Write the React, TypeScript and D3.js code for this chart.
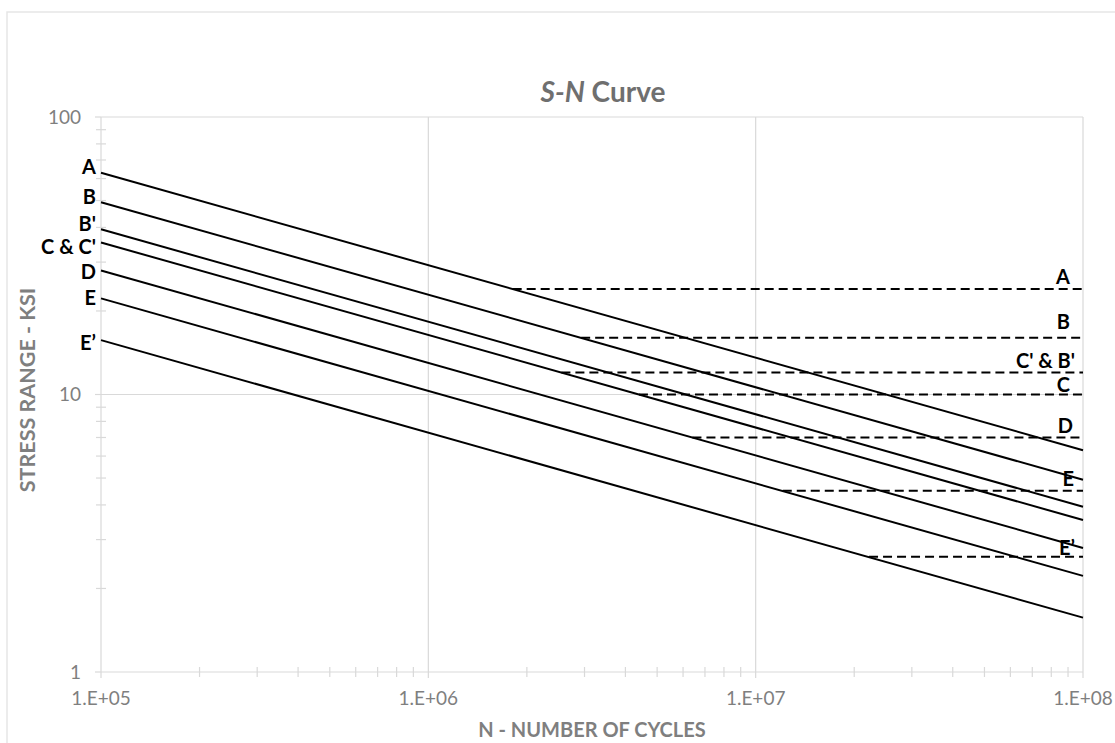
import React from "react";
import * as d3 from "d3";

// S-N curves: stress range (ksi) at N = 1e5 and at N = 1e8
const curveNames = ["A", "B", "B'", "C & C'", "D", "E", "E\u2019"];
const curveStartN = 1e5;
const curveEndN = 1e8;
const curveStartS = [63.0, 49.3, 39.4, 35.3, 28.0, 22.2, 15.7];
const curveEndS = [6.3, 4.93, 3.94, 3.53, 2.8, 2.22, 1.57];

// Constant-amplitude fatigue thresholds (dashed)
const thresholdNames = ["A", "B", "C' & B'", "C", "D", "E", "E\u2019"];
const thresholdS = [24, 16, 12, 10, 7, 4.5, 2.6];
const thresholdStartN = [1.81e6, 2.93e6, 2.55e6, 4.4e6, 6.41e6, 1.21e7, 2.22e7];

const xTickValues = [1e5, 1e6, 1e7, 1e8];
const xTickLabels = ["1.E+05", "1.E+06", "1.E+07", "1.E+08"];
const yTickValues = [1, 10, 100];
const yTickLabels = ["1", "10", "100"];

const W = 1115;
const H = 743;
const left = 101;
const right = 1083;
const top = 117;
const bottom = 672;

// label layout (offsets in px, not data)
const leftLabelDy = [1, 2, 2, 11.5, 8.5, 7, 10];
const rightLabelDy = [-5, -8.5, -5, -2.5, -4, -4.5, -2];
const rightLabelX = [1070, 1070, 1075, 1070, 1073, 1074, 1075];

export default function App() {
  const x = d3.scaleLog().domain([1e5, 1e8]).range([left, right]);
  const y = d3.scaleLog().domain([1, 100]).range([bottom, top]);
  const font = "Lato, 'Open Sans', sans-serif";
  const grid = "#d9d9d9";
  const textGrey = "#7f7f7f";
  const titleGrey = "#6f6f6f";

  const minorX: number[] = [];
  for (let d = 1e5; d < 1e8; d *= 10) for (let k = 2; k <= 9; k++) minorX.push(d * k);
  const minorY: number[] = [];
  for (let d = 1; d < 100; d *= 10) for (let k = 2; k <= 9; k++) minorY.push(d * k);

  const line = d3
    .line<[number, number]>()
    .x((d) => x(d[0]))
    .y((d) => y(d[1]));

  return (
    <svg
      width={W}
      height={H}
      style={{ position: "absolute", left: 0, top: 0, background: "#fff" }}
    >
      <rect x={7} y={12} width={W} height={H} fill="#fff" stroke="#e6e6e6" strokeWidth={1.5} />
      {/* title */}
      <text x={603} y={102} textAnchor="middle" fontFamily={font} fontWeight="bold" fontSize={28} fill={titleGrey}>
        <tspan fontStyle="italic">S-N</tspan> Curve
      </text>
      {/* grid */}
      {xTickValues.map((v, i) => (
        <line key={"gx" + i} x1={x(v)} x2={x(v)} y1={top} y2={bottom} stroke={grid} strokeWidth={1.2} />
      ))}
      {yTickValues.map((v, i) => (
        <line key={"gy" + i} x1={left} x2={right} y1={y(v)} y2={y(v)} stroke={grid} strokeWidth={1.2} />
      ))}
      {/* axes ticks */}
      {yTickValues.map((v, i) => (
        <line key={"ty" + i} x1={left - 6} x2={left} y1={y(v)} y2={y(v)} stroke={grid} strokeWidth={1.2} />
      ))}
      {minorY.map((v, i) => (
        <line key={"my" + i} x1={left - 5} x2={left + 5} y1={y(v)} y2={y(v)} stroke={grid} strokeWidth={1.2} />
      ))}
      {xTickValues.map((v, i) => (
        <line key={"tx" + i} x1={x(v)} x2={x(v)} y1={bottom} y2={bottom + 6} stroke={grid} strokeWidth={1.2} />
      ))}
      {minorX.map((v, i) => (
        <line key={"mx" + i} x1={x(v)} x2={x(v)} y1={bottom - 5} y2={bottom + 5} stroke={grid} strokeWidth={1.2} />
      ))}
      {/* tick labels */}
      {yTickValues.map((v, i) => (
        <text key={"ly" + i} x={81} y={y(v)} dy="0.35em" textAnchor="end" fontFamily={font} fontSize={19} fill={textGrey}>
          {yTickLabels[i]}
        </text>
      ))}
      {xTickValues.map((v, i) => (
        <text key={"lx" + i} x={x(v)} y={698} dy="0.35em" textAnchor="middle" fontFamily={font} fontSize={19} fill={textGrey}>
          {xTickLabels[i]}
        </text>
      ))}
      {/* axis titles */}
      <text x={592} y={737} textAnchor="middle" fontFamily={font} fontWeight="bold" fontSize={20} fill={textGrey}>
        N - NUMBER OF CYCLES
      </text>
      <text
        transform={`translate(35,390) rotate(-90)`}
        textAnchor="middle"
        fontFamily={font}
        fontWeight="bold"
        fontSize={21.5}
        fill={textGrey}
      >
        STRESS RANGE - KSI
      </text>
      {/* S-N curves */}
      {curveNames.map((n, i) => (
        <path
          key={"c" + i}
          d={line([
            [curveStartN, curveStartS[i]],
            [curveEndN, curveEndS[i]],
          ]) as string}
          fill="none"
          stroke="#000"
          strokeWidth={2}
        />
      ))}
      {curveNames.map((n, i) => (
        <text
          key={"cl" + i}
          x={96}
          y={y(curveStartS[i]) + leftLabelDy[i]}
          textAnchor="end"
          fontFamily={font}
          fontWeight="bold"
          fontSize={20}
          fill="#000"
        >
          {n}
        </text>
      ))}
      {/* thresholds */}
      {thresholdNames.map((n, i) => (
        <path
          key={"t" + i}
          d={line([
            [thresholdStartN[i], thresholdS[i]],
            [curveEndN, thresholdS[i]],
          ]) as string}
          fill="none"
          stroke="#000"
          strokeWidth={2}
          strokeDasharray="9 5"
        />
      ))}
      {thresholdNames.map((n, i) => (
        <text
          key={"tl" + i}
          x={rightLabelX[i]}
          y={y(thresholdS[i]) + rightLabelDy[i]}
          textAnchor="end"
          fontFamily={font}
          fontWeight="bold"
          fontSize={20}
          fill="#000"
        >
          {n}
        </text>
      ))}
    </svg>
  );
}
